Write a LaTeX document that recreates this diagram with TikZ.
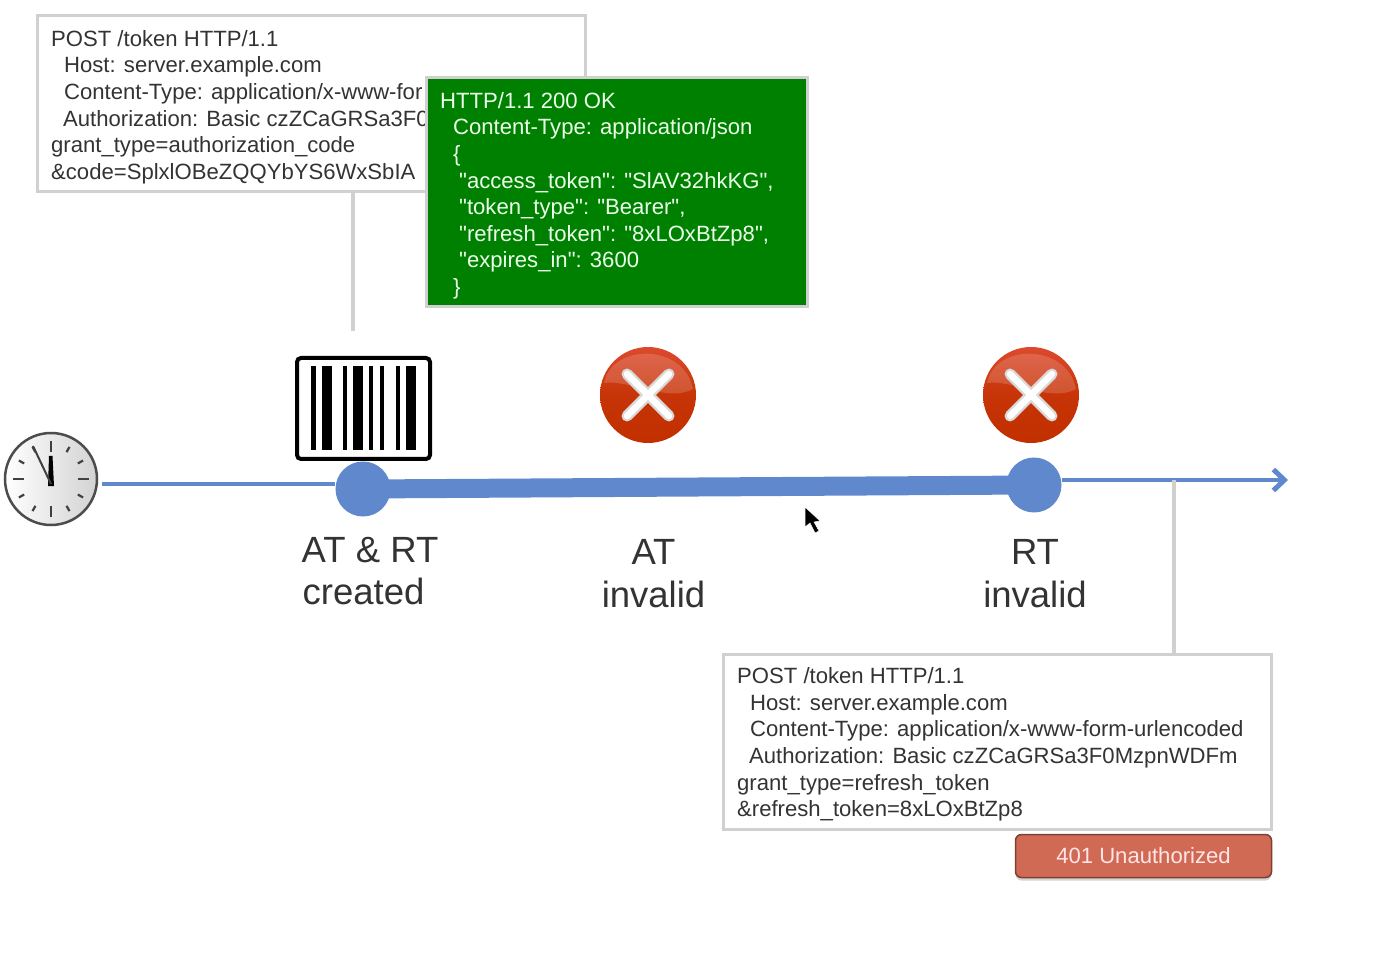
\documentclass[tikz,border=0pt]{standalone}
\usepackage{fontspec}
\setmainfont{Liberation Sans}
\newfontfamily\msgfont{Liberation Sans}
\usetikzlibrary{arrows.meta,shadows,calc}
\definecolor{tlblue}{HTML}{6088CC}
\definecolor{boxline}{HTML}{D0D0D0}
\definecolor{txt}{HTML}{333333}
\definecolor{okgreen}{HTML}{008000}
\definecolor{errred}{HTML}{D06A54}
\definecolor{balltop}{HTML}{DC4A2E}
\definecolor{ballbot}{HTML}{C23000}
\tikzset{
 x=1pt,y=-1pt,
 msgbox/.style={draw=boxline,line width=3pt,fill=white,minimum width=#1,inner sep=0pt,anchor=north west},
 msgtext/.style={anchor=north west,inner sep=0pt,align=left,text=txt,font=\msgfont\fontsize{22.1}{26.6}\selectfont},
 bigtext/.style={inner sep=0pt,align=center,text=txt,font=\fontsize{36.5}{43}\selectfont},
 tlthin/.style={draw=tlblue,line width=4pt},
 tlthick/.style={draw=tlblue,line width=19pt},
 tldot/.style={circle,fill=tlblue,minimum size=55pt,inner sep=0pt},
 lead/.style={draw=boxline,line width=3.5pt},
 bar/.style={fill=black},
}
\newcommand{\failicon}[3]{%
 \node[circle,minimum size=96pt,inner sep=0pt,top color=balltop,bottom color=ballbot,middle color=ballbot!85!balltop] (#1) at (#2,#3) {};
 \fill[white,opacity=.16] (#2-44,#3-12) .. controls (#2-36,#3-52) and (#2+36,#3-52) .. (#2+45,#3-6) .. controls (#2+20,#3+8) and (#2-20,#3-16) .. (#2-44,#3-12) -- cycle;
 \draw[line width=11pt,line cap=round,draw=gray!30] (#2-21,#3-21) -- (#2+21,#3+21) (#2-21,#3+21) -- (#2+21,#3-21);
 \draw[line width=6.5pt,line cap=round,draw=white] (#2-21,#3-21) -- (#2+21,#3+21) (#2-21,#3+21) -- (#2+21,#3-21);
}
\begin{document}
\begin{tikzpicture}
\useasboundingbox (0,0) rectangle (1374,957);
% first request
\coordinate (lead1top) at (353,192);
\coordinate (lead1end) at (353,331);
\draw[lead] (lead1top) -- (lead1end);
\node[msgbox=548pt,minimum height=176pt] (req1) at (36,14) {};
\node[msgtext] (req1txt) at (51,30) {POST /token HTTP/1.1\\
\hspace*{13pt}Host: server.example.com\\
\hspace*{13pt}Content-Type: application/x-www-for\\
\hspace*{12pt}Authorization: Basic czZCaGRSa3F0\\
grant\_type=authorization\_code\\
\&code=SplxlOBeZQQYbYS6WxSbIA};
% response
\node[msgbox=381pt,minimum height=229pt,fill=okgreen] (resp) at (425,76) {};
\node[msgtext,text=white!92!green] (resptxt) at (440,92) {HTTP/1.1 200 OK\\
\hspace*{13pt}Content-Type: application/json\\
\hspace*{13pt}\{\\
\hspace*{19pt}"access\_token": "SlAV32hkKG",\\
\hspace*{19pt}"token\_type": "Bearer",\\
\hspace*{19pt}"refresh\_token": "8xLOxBtZp8",\\
\hspace*{19pt}"expires\_in": 3600\\
\hspace*{13pt}\}};
% timeline
\coordinate (tlstart) at (102,484);
\coordinate (tlend) at (1288,480);
\node[tldot] (d1) at (363,489) {};
\node[tldot] (d2) at (1034,485) {};
\draw[tlthin] (tlstart) -- (tlstart -| d1.west);
\draw[tlthick] (d1.center) -- (d2.center);
\draw[tlthin,-{Straight Barb[length=11pt,width=21pt,line width=5pt]}] (tlend -| d2.east) -- (tlend);
% clock
\node[circle,minimum size=92pt,inner sep=0pt,draw=black!70,line width=2.5pt,left color=white,right color=gray!35] (clock) at (51,479) {};
\foreach \a/\ra/\rb in {0/27/38,30/31/37,60/31/37,90/27/38,120/31/37,150/31/37,180/27/38,210/31/37,240/31/37,270/27/38,300/31/37,330/31/37}
 \draw[line width=2.2pt,black!75] ($(clock.center)+(\a:\ra pt)$) -- ($(clock.center)+(\a:\rb pt)$);
\fill[black] (48,486) -- (54,486) -- (52.5,456) -- (49,456) -- cycle;
\draw[line width=2pt,black!75] (51,484) -- (33,446);
% barcode
\node[draw=black,line width=4pt,rounded corners=4pt,fill=white,minimum width=133pt,minimum height=101pt,inner sep=0pt] (code) at (363.5,408.5) {};
\foreach \xa/\xb in {311/316,322/332,343/347,353/363,369/373,380/384,396/400,406/416}
 \fill[bar] (\xa,366) rectangle (\xb,450);
% fail icons
\failicon{x1}{648}{395}
\failicon{x2}{1031}{395}
% labels
\node[bigtext] (l1) at (370,571) {AT \& RT\\[-0.5pt]\hspace*{-13pt}created};
\node[bigtext] (l2) at (653.5,574) {AT\\invalid};
\node[bigtext] (l3) at (1035,574) {RT\\invalid};
% second request
\coordinate (lead2top) at (1174,480);
\coordinate (lead2end) at (1174,654);
\draw[lead] (lead2top) -- (lead2end);
\node[msgbox=548pt,minimum height=175pt] (req2) at (722,653) {};
\node[msgtext] (req2txt) at (737,667.5) {POST /token HTTP/1.1\\
\hspace*{13pt}Host: server.example.com\\
\hspace*{13pt}Content-Type: application/x-www-form-urlencoded\\
\hspace*{12pt}Authorization: Basic czZCaGRSa3F0MzpnWDFm\\
grant\_type=refresh\_token\\
\&refresh\_token=8xLOxBtZp8};
\node[draw=errred!60!black,line width=1.5pt,fill=errred,rounded corners=6pt,minimum width=256pt,minimum height=43pt,inner sep=0pt,text=white!90!red,font=\fontsize{22.1}{26}\selectfont,drop shadow={shadow xshift=0pt,shadow yshift=-3pt,opacity=.35}] (err) at (1143.5,856) {401 Unauthorized};
% pointer
\node[inner sep=0pt,minimum size=1pt] (ptr) at (805,507) {};
\fill[black,draw=white,line width=.5pt] (805,507) -- (805,527) -- (810,523) -- (815,533) -- (819,531) -- (814,522) -- (820,521) -- cycle;
\end{tikzpicture}
\end{document}
